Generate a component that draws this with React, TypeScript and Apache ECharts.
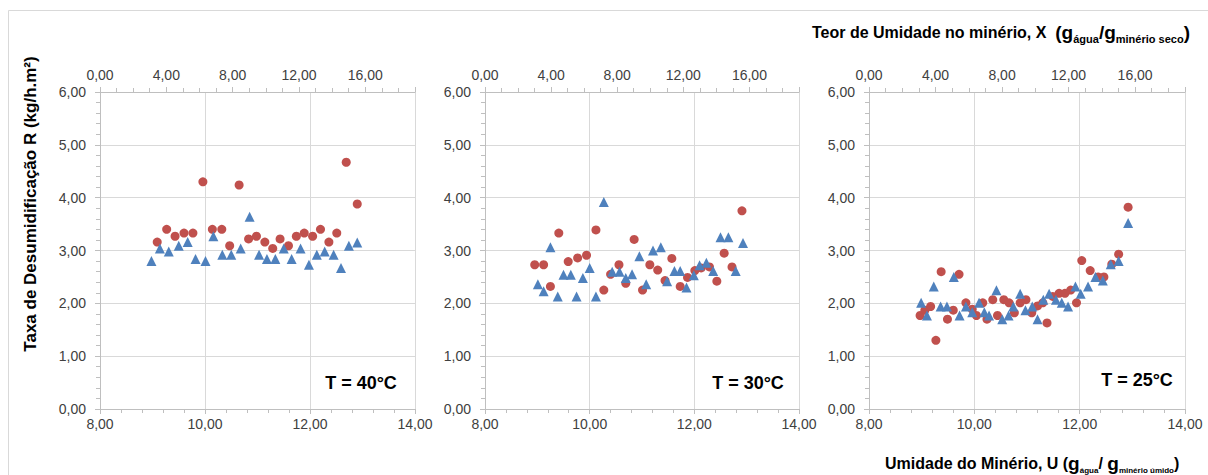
import React, { useEffect, useRef } from 'react';
import * as echarts from 'echarts';

// Panel labels
const panelLabels = ['T = 40°C', 'T = 30°C', 'T = 25°C'];

// Bottom axis U (%), top axis X (%), y axis R
const uMin = 8, uMax = 14, uInterval = 2;
const xTopMin = 0, xTopMax = 19, xTopInterval = 4;
const rMin = 0, rMax = 6, rInterval = 1;

// T = 40°C
const red40U = [9.09, 9.27, 9.43, 9.60, 9.77, 9.96, 10.14, 10.32, 10.47, 10.65, 10.83, 10.98, 11.14, 11.29, 11.43, 11.59, 11.74, 11.89, 12.05, 12.20, 12.36, 12.51, 12.69, 12.90];
const red40R = [3.16, 3.40, 3.27, 3.33, 3.33, 4.30, 3.40, 3.40, 3.09, 4.24, 3.22, 3.27, 3.16, 3.04, 3.22, 3.09, 3.27, 3.33, 3.27, 3.40, 3.16, 3.33, 4.67, 3.88];
const blue40U = [8.98, 9.14, 9.31, 9.50, 9.67, 9.82, 10.01, 10.16, 10.33, 10.50, 10.68, 10.85, 11.03, 11.18, 11.34, 11.50, 11.65, 11.82, 11.98, 12.13, 12.28, 12.45, 12.59, 12.74, 12.90];
const blue40R = [2.80, 3.04, 2.98, 3.09, 3.16, 2.84, 2.80, 3.27, 2.92, 2.92, 3.04, 3.64, 2.92, 2.84, 2.84, 3.04, 2.84, 3.04, 2.73, 2.92, 2.98, 2.92, 2.67, 3.09, 3.15];

// T = 30°C
const red30U = [8.95, 9.12, 9.25, 9.41, 9.59, 9.77, 9.94, 10.12, 10.27, 10.40, 10.56, 10.69, 10.85, 11.01, 11.15, 11.30, 11.44, 11.57, 11.73, 11.87, 12.01, 12.13, 12.29, 12.43, 12.57, 12.72, 12.91];
const red30R = [2.73, 2.73, 2.32, 3.33, 2.79, 2.86, 2.91, 3.39, 2.25, 2.55, 2.73, 2.38, 3.21, 2.25, 2.73, 2.63, 2.43, 2.85, 2.32, 2.49, 2.62, 2.67, 2.69, 2.42, 2.95, 2.69, 3.75];
const blue30U = [9.01, 9.12, 9.25, 9.39, 9.50, 9.64, 9.75, 9.87, 10.00, 10.12, 10.27, 10.43, 10.57, 10.69, 10.81, 10.95, 11.08, 11.21, 11.36, 11.48, 11.62, 11.73, 11.85, 11.99, 12.10, 12.23, 12.36, 12.50, 12.65, 12.79, 12.93];
const blue30R = [2.36, 2.23, 3.06, 2.13, 2.54, 2.54, 2.13, 2.48, 2.67, 2.13, 3.92, 2.60, 2.60, 2.48, 2.55, 2.89, 2.36, 3.00, 3.06, 2.42, 2.61, 2.61, 2.30, 2.53, 2.72, 2.77, 2.61, 3.25, 3.25, 2.61, 3.14];

// T = 25°C
const red25U = [8.97, 9.06, 9.17, 9.27, 9.37, 9.49, 9.60, 9.71, 9.84, 9.96, 10.04, 10.16, 10.24, 10.35, 10.44, 10.56, 10.66, 10.76, 10.87, 10.98, 11.09, 11.20, 11.30, 11.38, 11.49, 11.61, 11.72, 11.83, 11.94, 12.04, 12.20, 12.35, 12.46, 12.61, 12.74, 12.92];
const red25R = [1.77, 1.87, 1.94, 1.30, 2.60, 1.70, 1.87, 2.55, 2.01, 1.89, 1.77, 2.01, 1.70, 2.07, 1.77, 2.07, 2.01, 1.82, 2.01, 2.07, 1.82, 1.95, 2.01, 1.63, 2.13, 2.19, 2.19, 2.25, 2.01, 2.81, 2.62, 2.50, 2.50, 2.74, 2.93, 3.82];
const blue25U = [8.99, 9.10, 9.23, 9.36, 9.48, 9.61, 9.72, 9.84, 9.96, 10.09, 10.19, 10.28, 10.42, 10.53, 10.65, 10.74, 10.87, 10.97, 11.10, 11.20, 11.31, 11.42, 11.55, 11.66, 11.78, 11.92, 12.02, 12.16, 12.30, 12.44, 12.59, 12.74, 12.92];
const blue25R = [2.01, 1.77, 2.32, 1.94, 1.94, 2.50, 1.77, 1.94, 1.83, 2.01, 1.83, 1.77, 2.25, 1.70, 1.77, 1.94, 2.18, 1.87, 1.94, 1.70, 2.07, 2.18, 2.07, 2.01, 1.94, 2.32, 2.18, 2.32, 2.50, 2.43, 2.74, 2.80, 3.52];

const redU = [red40U, red30U, red25U];
const redR = [red40R, red30R, red25R];
const blueU = [blue40U, blue30U, blue25U];
const blueR = [blue40R, blue30R, blue25R];

const zip = (a: number[], b: number[]) => a.map((v, i) => [v, b[i]]);
const fmt = (v: number) => v.toFixed(2).replace('.', ',');

const RED = '#C0504D';
const BLUE = '#4F81BD';
const AXIS = '#BFBFBF';
const GRID = '#D9D9D9';
const LABEL = '#404040';
const FONT = '"Liberation Sans", Arial, sans-serif';

const panelsPos = [
  { left: 100, width: 315 },
  { left: 485, width: 314 },
  { left: 869, width: 316 },
];
const gridTop = 92;
const gridHeight = 317;

export default function App() {
  const ref = useRef<HTMLDivElement>(null);
  useEffect(() => {
    if (!ref.current) return;
    const chart = echarts.init(ref.current, undefined, { renderer: 'svg' });
    const grids: any[] = [];
    const xAxes: any[] = [];
    const yAxes: any[] = [];
    const series: any[] = [];
    panelsPos.forEach((p, k) => {
      grids.push({ left: p.left, width: p.width, top: gridTop, height: gridHeight, containLabel: false });
      xAxes.push({
        type: 'value', gridIndex: k, position: 'bottom', min: uMin, max: uMax, interval: uInterval,
        axisLine: { show: true, onZero: false, lineStyle: { color: AXIS } },
        axisTick: { show: true, length: 5, lineStyle: { color: AXIS } },
        minorTick: { show: true, splitNumber: 5, length: 4, lineStyle: { color: AXIS } },
        splitLine: { show: true, lineStyle: { color: GRID } },
        axisLabel: { color: LABEL, fontFamily: FONT, fontSize: 14, margin: 8, formatter: (v: number) => fmt(v) },
      });
      xAxes.push({
        type: 'value', gridIndex: k, position: 'top', min: xTopMin, max: xTopMax, interval: xTopInterval,
        axisLine: { show: true, onZero: false, lineStyle: { color: AXIS } },
        axisTick: { show: true, length: 5, lineStyle: { color: AXIS } },
        minorTick: { show: true, splitNumber: 4, length: 4, lineStyle: { color: AXIS } },
        splitLine: { show: false },
        axisLabel: {
          color: LABEL, fontFamily: FONT, fontSize: 14, margin: 10,
          formatter: (v: number) => (Math.abs(v % 4) < 1e-9 && v <= 16 ? fmt(v) : ''),
        },
      });
      yAxes.push({
        type: 'value', gridIndex: k, min: rMin, max: rMax, interval: rInterval,
        axisLine: { show: true, onZero: false, lineStyle: { color: AXIS } },
        axisTick: { show: true, length: 5, lineStyle: { color: AXIS } },
        minorTick: { show: true, splitNumber: 5, length: 4, lineStyle: { color: AXIS } },
        splitLine: { show: true, lineStyle: { color: GRID } },
        axisLabel: { color: LABEL, fontFamily: FONT, fontSize: 14, margin: 14, formatter: (v: number) => fmt(v) },
      });
      series.push({
        type: 'scatter', xAxisIndex: 2 * k, yAxisIndex: k, symbol: 'circle', symbolSize: 9,
        itemStyle: { color: RED, opacity: 1 }, data: zip(redU[k], redR[k]), z: 3,
      });
      series.push({
        type: 'scatter', xAxisIndex: 2 * k, yAxisIndex: k, symbol: 'triangle', symbolSize: 10,
        itemStyle: { color: BLUE, opacity: 1 }, data: zip(blueU[k], blueR[k]), z: 4,
      });
    });

    const labelPos = [
      { x: 361, y: 383 },
      { x: 748, y: 383 },
      { x: 1137, y: 380 },
    ];

    const graphic: any[] = [
      {
        type: 'rect', shape: { x: 8.5, y: 10.5, width: 1400, height: 600 },
        style: { fill: 'none', stroke: '#D9D9D9', lineWidth: 1 }, silent: true, z: -10,
      },
      {
        type: 'text', x: 30, y: 204, rotation: Math.PI / 2,
        style: {
          text: 'Taxa de Desumidificação R (kg/h.m²)', fill: '#000',
          font: `bold 17px ${FONT}`, textAlign: 'center', textVerticalAlign: 'middle',
        },
      },
      {
        type: 'text', x: 812, y: 32,
        style: {
          text: '{a|Teor de Umidade no minério, X  }{b|(g}{s|água}{b|/g}{s|minério seco}{b|)}',
          textVerticalAlign: 'middle',
          rich: {
            a: { font: `bold 16px ${FONT}`, fill: '#000', lineHeight: 24 },
            b: { font: `bold 19px ${FONT}`, fill: '#000', lineHeight: 24 },
            s: { font: `bold 11px ${FONT}`, fill: '#000', lineHeight: 13, verticalAlign: 'bottom' },
          },
        },
      },
      {
        type: 'text', x: 885, y: 463,
        style: {
          text: '{a|Umidade do Minério, U (}{b|g}{s|água}{a|/ }{b|g}{s|minério úmido}{a|)}',
          textVerticalAlign: 'middle',
          rich: {
            a: { font: `bold 16px ${FONT}`, fill: '#000', lineHeight: 22 },
            b: { font: `bold 19px ${FONT}`, fill: '#000', lineHeight: 22 },
            s: { font: `bold 8px ${FONT}`, fill: '#000', lineHeight: 11, verticalAlign: 'bottom' },
          },
        },
      },
      ...panelLabels.map((t, k) => ({
        type: 'text', x: labelPos[k].x, y: labelPos[k].y,
        style: {
          text: t, fill: '#000', font: `bold 18px ${FONT}`,
          textAlign: 'center', textVerticalAlign: 'middle',
        },
      })),
    ];

    chart.setOption({
      animation: false,
      backgroundColor: '#fff',
      grid: grids,
      xAxis: xAxes,
      yAxis: yAxes,
      series,
      graphic,
    });
    return () => chart.dispose();
  }, []);
  return <div ref={ref} style={{ position: 'fixed', left: 0, top: 0, width: 1208, height: 475 }} />;
}
